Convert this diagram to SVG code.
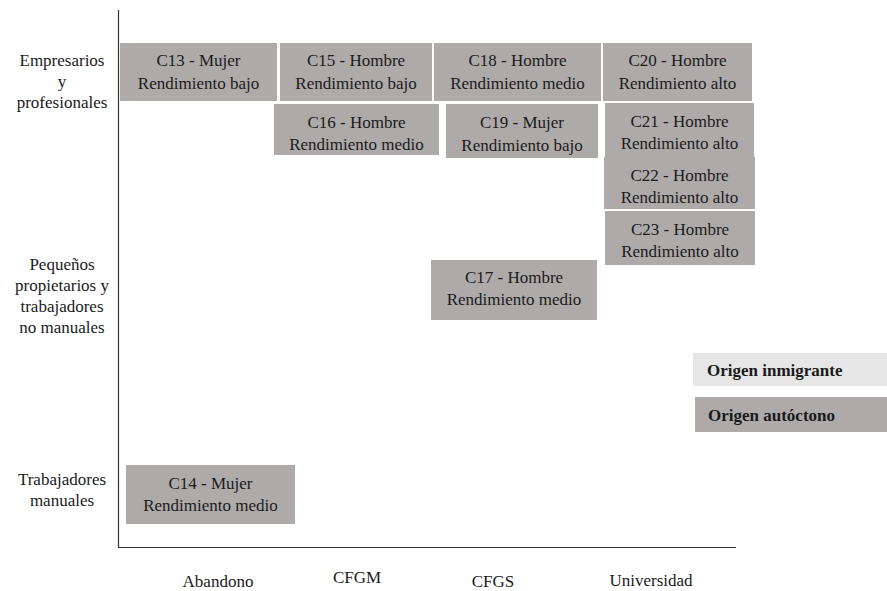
<svg xmlns="http://www.w3.org/2000/svg" width="887" height="591" viewBox="0 0 887 591">
<style>
text{font-family:'Liberation Serif','Times New Roman',Times,Tinos,'Noto Serif','DejaVu Serif',FreeSerif,serif;font-size:17px;fill:#1a1a1a}
.b{fill:#aeaaaa}
.c{text-anchor:middle}
.lg{font-weight:bold}
.ax{stroke:#333;stroke-width:1.2;fill:none}
</style>
<rect width="887" height="591" fill="#fff"/>
<g id="axes" class="connectors">
<path class="ax" d="M118.5,10 V547.5 H736"/>
</g>
<g id="ylabels">
<text class="c" x="62" y="66">Empresarios</text>
<text class="c" x="62" y="87">y</text>
<text class="c" x="62" y="108">profesionales</text>
<text class="c" x="62" y="270">Pequeños</text>
<text class="c" x="62" y="291">propietarios y</text>
<text class="c" x="62" y="312">trabajadores</text>
<text class="c" x="62" y="333">no manuales</text>
<text class="c" x="62" y="485">Trabajadores</text>
<text class="c" x="62" y="506">manuales</text>
</g>
<g id="xlabels">
<text class="c" x="218" y="587">Abandono</text>
<text class="c" x="357" y="583">CFGM</text>
<text class="c" x="493" y="587">CFGS</text>
<text class="c" x="651" y="586">Universidad</text>
</g>
<g id="C13"><rect class="b" x="120" y="43" width="157" height="58"/><text class="c" x="198.5" y="66">C13 - Mujer</text><text class="c" x="198.5" y="89">Rendimiento bajo</text></g>
<g id="C15"><rect class="b" x="280" y="43" width="152" height="58"/><text class="c" x="356" y="66">C15 - Hombre</text><text class="c" x="356" y="89">Rendimiento bajo</text></g>
<g id="C18"><rect class="b" x="434" y="43" width="167" height="58"/><text class="c" x="517.5" y="66">C18 - Hombre</text><text class="c" x="517.5" y="89">Rendimiento medio</text></g>
<g id="C20"><rect class="b" x="603" y="43" width="149" height="58"/><text class="c" x="677.5" y="66">C20 - Hombre</text><text class="c" x="677.5" y="89">Rendimiento alto</text></g>
<g id="C16"><rect class="b" x="274" y="104" width="165" height="51"/><text class="c" x="356.5" y="128">C16 - Hombre</text><text class="c" x="356.5" y="150">Rendimiento medio</text></g>
<g id="C19"><rect class="b" x="446" y="104" width="152" height="54"/><text class="c" x="522" y="128">C19 - Mujer</text><text class="c" x="522" y="151">Rendimiento bajo</text></g>
<g id="C21"><rect class="b" x="605" y="103" width="149" height="54"/><text class="c" x="679.5" y="127">C21 - Hombre</text><text class="c" x="679.5" y="149">Rendimiento alto</text></g>
<g id="C22"><rect class="b" x="604" y="157" width="151" height="52"/><text class="c" x="679.5" y="181">C22 - Hombre</text><text class="c" x="679.5" y="203">Rendimiento alto</text></g>
<g id="C23"><rect class="b" x="605" y="211" width="150" height="54"/><text class="c" x="680" y="235">C23 - Hombre</text><text class="c" x="680" y="257">Rendimiento alto</text></g>
<g id="C17"><rect class="b" x="431" y="260" width="166" height="60"/><text class="c" x="514" y="283">C17 - Hombre</text><text class="c" x="514" y="305">Rendimiento medio</text></g>
<g id="C14"><rect class="b" x="126" y="465" width="169" height="59"/><text class="c" x="210.5" y="489">C14 - Mujer</text><text class="c" x="210.5" y="511">Rendimiento medio</text></g>
<g id="legend-inmigrante"><rect x="693" y="353" width="194" height="33" fill="#e6e6e6"/><text class="lg" x="707" y="376">Origen inmigrante</text></g>
<g id="legend-autoctono"><rect class="b" x="695" y="397" width="192" height="35"/><text class="lg" x="708" y="421">Origen autóctono</text></g>
</svg>
